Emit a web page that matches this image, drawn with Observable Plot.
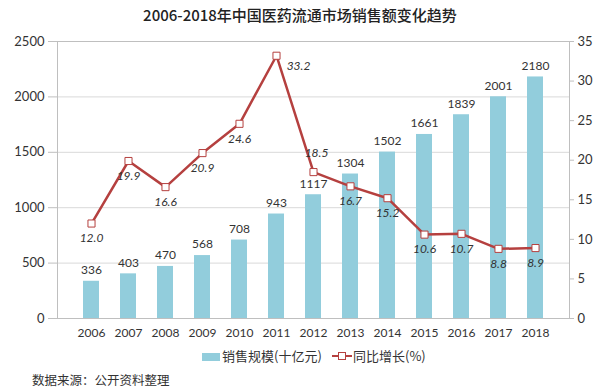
<!DOCTYPE html>
<html><head><meta charset="utf-8">
<script src="https://cdn.jsdelivr.net/npm/d3@7"></script>
<script src="https://cdn.jsdelivr.net/npm/@observablehq/plot@0.6"></script>
<style>
body{margin:0;background:#fff;width:600px;height:391px;overflow:hidden;position:relative;font-family:"Noto Sans CJK SC",sans-serif;}
#title{height:30px;line-height:30px;text-align:center;font-size:15px;font-weight:500;color:#222;}
#chart{height:312px;}
.lg{position:absolute;font-size:13px;color:#333;line-height:16px;white-space:nowrap}
#source{position:absolute;left:32px;top:371px;font-size:12.5px;line-height:18px;color:#333}
</style></head><body>
<div id="title">2006-2018年中国医药流通市场销售额变化趋势</div>
<div id="chart"></div>
<div id="legend"></div>
<div id="source">数据来源：公开资料整理</div>
<script>
const years = ["2006","2007","2008","2009","2010","2011","2012","2013","2014","2015","2016","2017","2018"];
const sales = [336,403,470,568,708,943,1117,1304,1502,1661,1839,2001,2180];
const growth = [12.0,19.9,16.6,20.9,24.6,33.2,18.5,16.7,15.2,10.6,10.7,8.8,8.9];
const leftTicks = [0,500,1000,1500,2000,2500];
const rightTicks = [0,5,10,15,20,25,30,35];
const seriesNames = ["销售规模(十亿元)","同比增长(%)"];

const barColor = "#92cddc";
const lineColor = "#b5403f";
const k = 2500/35;
const data = years.map((y,i)=>({year:y, sales:sales[i], growth:growth[i], g:growth[i]*k}));

const chart = Plot.plot({
  width:600, height:312,
  marginTop:11, marginBottom:24, marginLeft:57, marginRight:31,
  style:{fontFamily:"Lato, 'Liberation Sans', sans-serif", fontSize:"12px", color:"#333", background:"#fff"},
  x:{domain:years, padding:0.57, label:null},
  y:{domain:[0,2500], label:null},
  marks:[
    Plot.gridY(leftTicks,{stroke:"#d9d9d9", strokeOpacity:1}),
    Plot.frame({stroke:"#bfbfbf"}),
    Plot.axisY({ticks:leftTicks, anchor:"left", tickFormat:v=>String(v), tickSize:9, tickPadding:4, label:null, stroke:"#bfbfbf", fontSize:13, fill:"#333"}),
    Plot.axisY({ticks:rightTicks.map(v=>v*k), anchor:"right", tickFormat:v=>String(Math.round(v/k)), tickSize:4, tickPadding:4, label:null, stroke:"#bfbfbf", fontSize:13, fill:"#333"}),
    Plot.axisX({tickSize:0, tickPadding:10, label:null, fontSize:12, fill:"#333"}),
    Plot.barY(data,{x:"year", y:"sales", fill:barColor}),
    Plot.text(data,{x:"year", y:"sales", text:d=>String(d.sales), dy:-11, fill:"#333", fontSize:12}),
    Plot.line(data,{x:"year", y:"g", stroke:lineColor, strokeWidth:2.5}),
    Plot.dot(data,{x:"year", y:"g", symbol:"square", r:4, fill:"white", stroke:lineColor, strokeWidth:1}),
    Plot.text(data.filter(d=>d.year!=="2011" && d.year!=="2012"),{x:"year", y:"g", text:d=>d.growth.toFixed(1), dy:15, fill:"#333", fontSize:12, fontStyle:"italic"}),
    Plot.text(data.filter(d=>d.year==="2011"),{x:"year", y:"g", text:d=>d.growth.toFixed(1), dx:22, dy:10, fill:"#333", fontSize:12, fontStyle:"italic"}),
    Plot.text(data.filter(d=>d.year==="2012"),{x:"year", y:"g", text:d=>d.growth.toFixed(1), dx:3, dy:-19, fill:"#333", fontSize:12, fontStyle:"italic"})
  ]
});
document.getElementById("chart").appendChild(chart);

const lg = document.getElementById("legend");
lg.innerHTML =
  `<div style="position:absolute;left:202px;top:353px;width:18px;height:8px;background:${barColor}"></div>`+
  `<div class="lg" style="left:222px;top:348px">${seriesNames[0]}</div>`+
  `<svg style="position:absolute;left:332px;top:351px" width="20" height="10"><line x1="0" y1="5" x2="20" y2="5" stroke="${lineColor}" stroke-width="2"/><rect x="6.5" y="1.5" width="7" height="7" fill="white" stroke="${lineColor}"/></svg>`+
  `<div class="lg" style="left:353px;top:348px">${seriesNames[1]}</div>`;
</script>
</body></html>
